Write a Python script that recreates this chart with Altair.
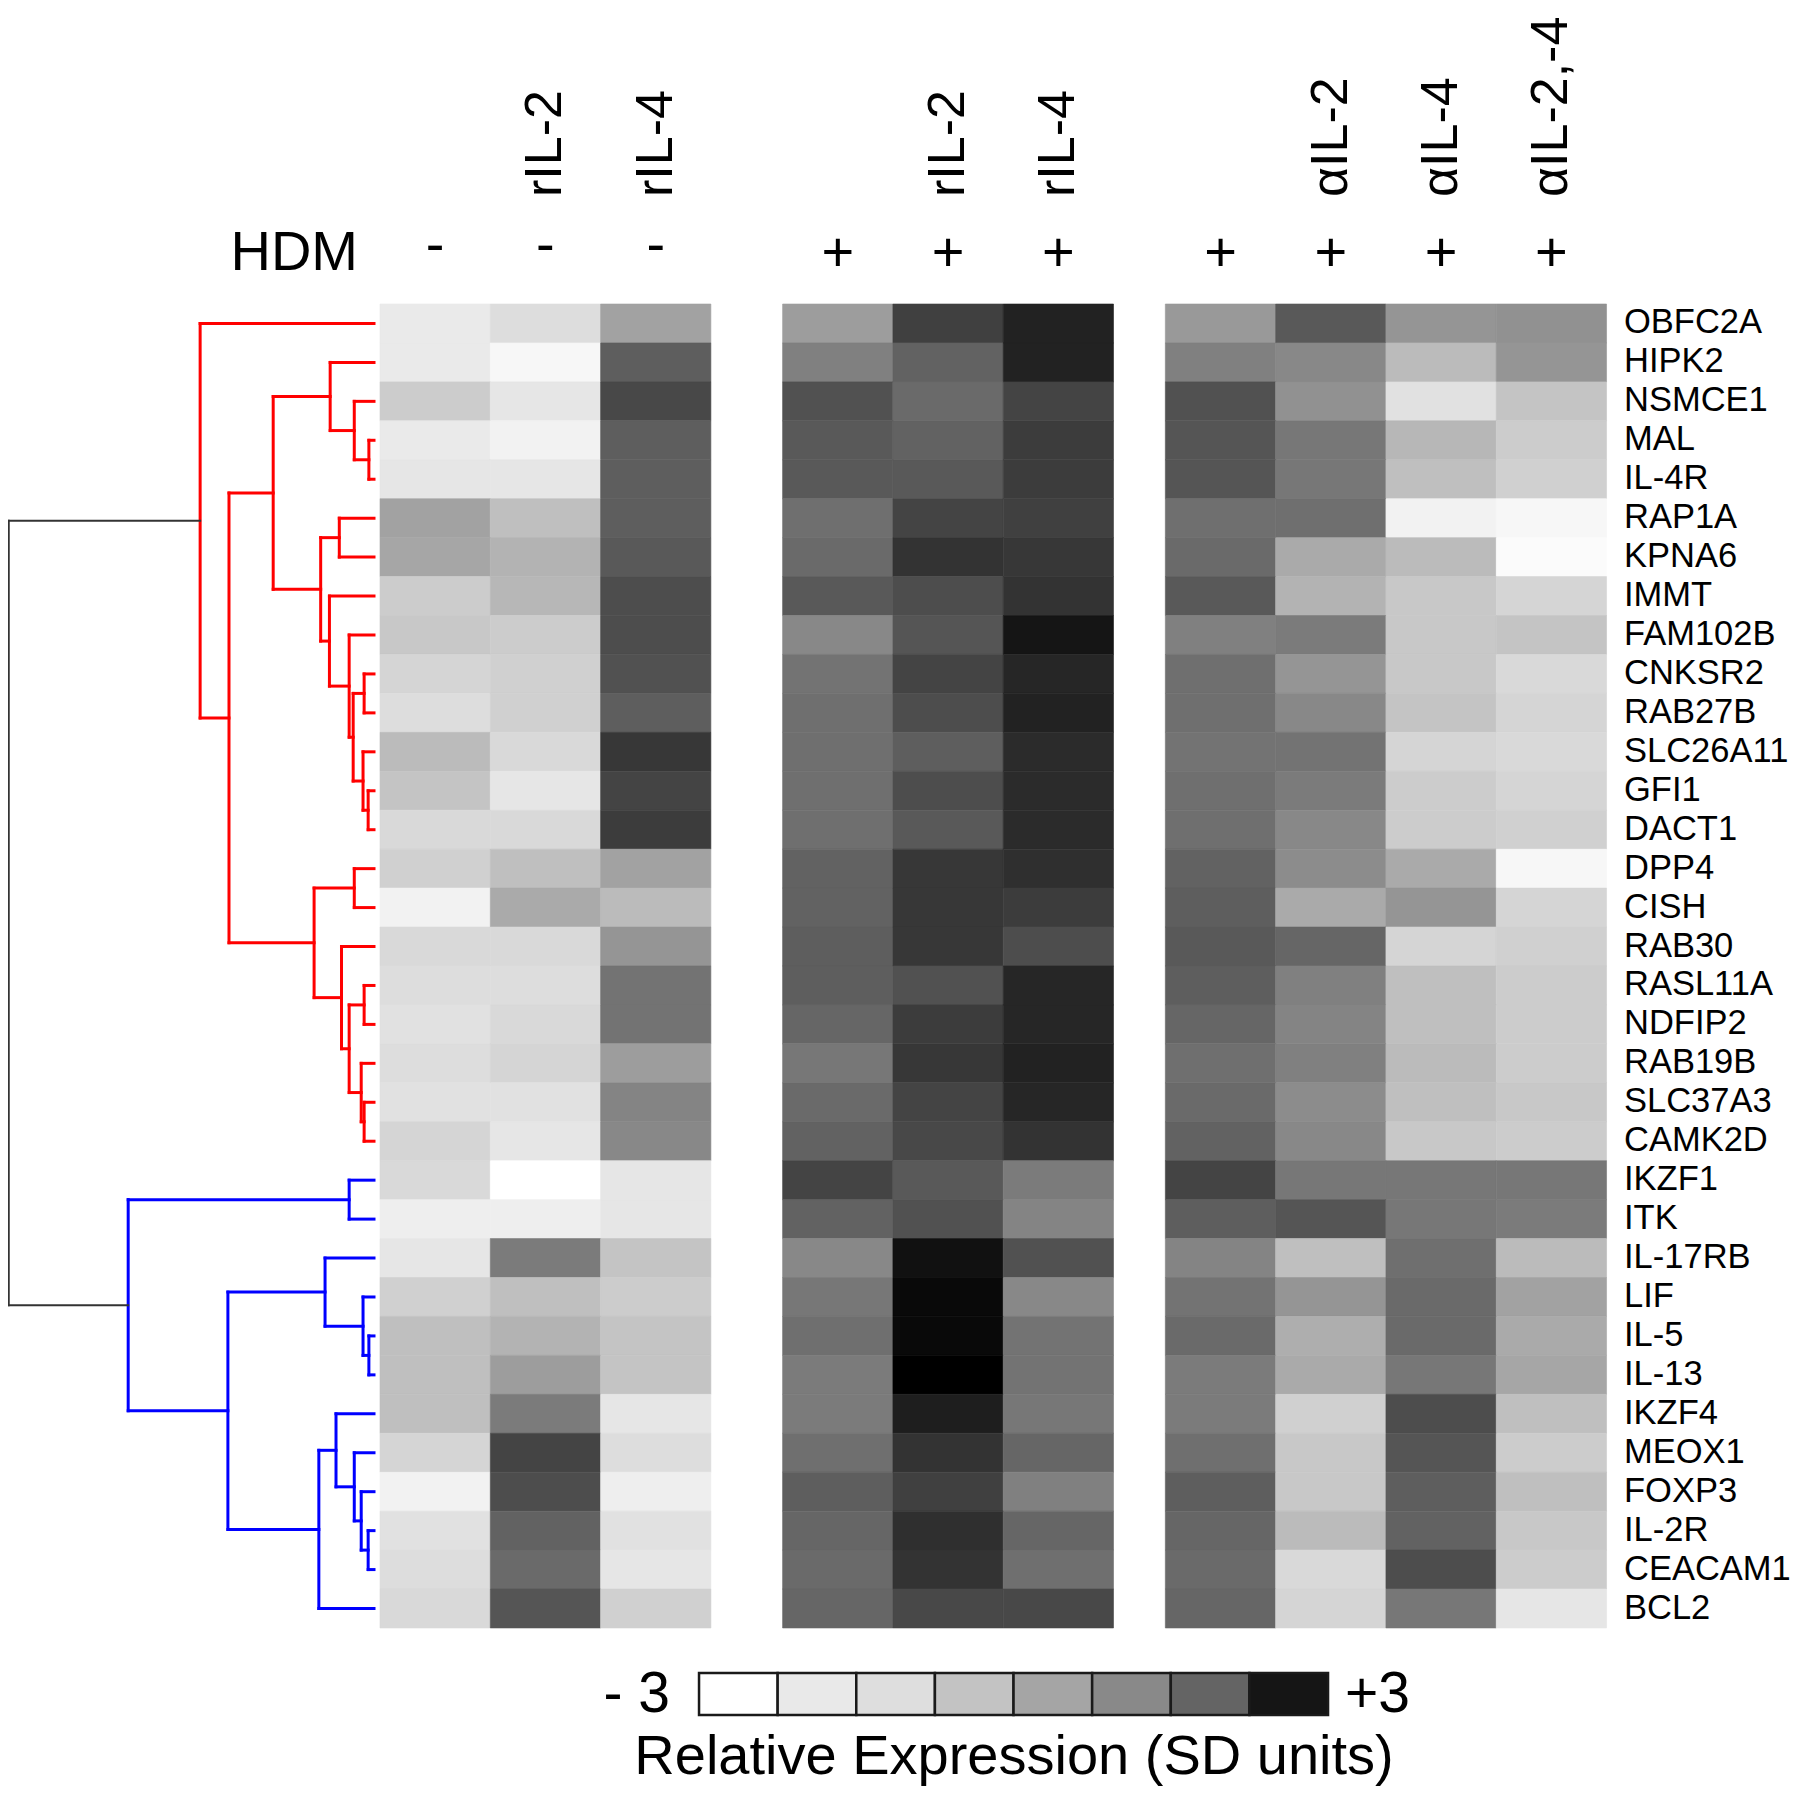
import altair as alt
import pandas as pd

# ---------------- data ----------------
genes = ["OBFC2A", "HIPK2", "NSMCE1", "MAL", "IL-4R", "RAP1A", "KPNA6", "IMMT",
         "FAM102B", "CNKSR2", "RAB27B", "SLC26A11", "GFI1", "DACT1", "DPP4", "CISH",
         "RAB30", "RASL11A", "NDFIP2", "RAB19B", "SLC37A3", "CAMK2D", "IKZF1", "ITK",
         "IL-17RB", "LIF", "IL-5", "IL-13", "IKZF4", "MEOX1", "FOXP3", "IL-2R",
         "CEACAM1", "BCL2"]

hdm = ["-", "-", "-", "+", "+", "+", "+", "+", "+", "+"]
treatments = ["", "rIL-2", "rIL-4", "", "rIL-2", "rIL-4", "", "αIL-2", "αIL-4", "αIL-2,-4"]
groups = [0, 0, 0, 1, 1, 1, 2, 2, 2, 2]

# relative expression (SD units), one list per gene, 10 conditions
values = [
    [-2.5, -2.2, -0.8, -0.7, 1.5, 2.2, -0.6, 0.9, -0.5, -0.4],
    [-2.5, -2.8, 0.8, 0.0, 0.7, 2.2, 0.0, -0.2, -1.4, -0.5],
    [-1.8, -2.4, 1.3, 1.1, 0.5, 1.4, 1.1, -0.4, -2.3, -1.6],
    [-2.5, -2.7, 0.8, 0.9, 0.7, 1.6, 1.0, 0.2, -1.3, -1.8],
    [-2.4, -2.4, 0.8, 0.9, 0.9, 1.6, 1.0, 0.2, -1.5, -1.9],
    [-0.8, -1.5, 0.8, 0.4, 1.4, 1.5, 0.4, 0.4, -2.7, -2.8],
    [-0.9, -1.2, 0.9, 0.5, 1.8, 1.7, 0.5, -1.0, -1.4, -2.9],
    [-1.8, -1.3, 1.2, 0.9, 1.2, 1.8, 0.9, -1.2, -1.7, -2.0],
    [-1.7, -1.8, 1.2, -0.2, 1.0, 2.5, 0.0, 0.1, -1.7, -1.6],
    [-2.0, -1.9, 1.1, 0.3, 1.4, 2.1, 0.4, -0.5, -1.7, -2.1],
    [-2.2, -1.9, 0.8, 0.4, 1.2, 2.2, 0.4, -0.2, -1.6, -2.0],
    [-1.4, -2.1, 1.7, 0.4, 0.8, 2.0, 0.3, 0.3, -2.0, -2.1],
    [-1.6, -2.4, 1.4, 0.4, 1.2, 2.0, 0.4, 0.1, -1.8, -2.0],
    [-2.1, -2.1, 1.6, 0.4, 0.9, 2.0, 0.4, -0.2, -1.8, -1.9],
    [-1.9, -1.5, -0.8, 0.7, 1.7, 1.9, 0.7, -0.3, -1.0, -2.8],
    [-2.7, -1.0, -1.4, 0.7, 1.7, 1.6, 0.8, -1.0, -0.5, -2.0],
    [-2.1, -2.1, -0.5, 0.8, 1.7, 1.2, 0.9, 0.6, -2.0, -1.9],
    [-2.2, -2.2, 0.3, 0.8, 1.1, 2.1, 0.8, 0.0, -1.5, -1.8],
    [-2.3, -2.1, 0.3, 0.6, 1.6, 2.1, 0.6, -0.1, -1.5, -1.8],
    [-2.2, -2.0, -0.7, 0.2, 1.7, 2.2, 0.4, 0.0, -1.4, -1.8],
    [-2.3, -2.3, -0.1, 0.5, 1.4, 2.1, 0.5, -0.3, -1.5, -1.7],
    [-2.0, -2.4, -0.2, 0.7, 1.3, 1.8, 0.7, -0.2, -1.7, -1.8],
    [-2.1, -3.0, -2.4, 1.4, 0.9, 0.1, 1.4, 0.2, 0.2, 0.2],
    [-2.6, -2.6, -2.4, 0.7, 1.1, -0.1, 0.8, 1.0, 0.2, 0.1],
    [-2.4, 0.1, -1.6, -0.2, 2.6, 1.1, -0.1, -1.5, 0.4, -1.4],
    [-1.9, -1.5, -1.8, 0.2, 2.8, -0.2, 0.3, -0.5, 0.5, -0.8],
    [-1.5, -1.2, -1.6, 0.4, 2.8, 0.3, 0.5, -1.1, 0.5, -1.0],
    [-1.5, -0.7, -1.6, 0.1, 3.0, 0.3, 0.1, -1.0, 0.2, -0.9],
    [-1.5, 0.1, -2.4, 0.1, 2.3, 0.2, 0.1, -1.9, 1.2, -1.5],
    [-2.0, 1.4, -2.2, 0.4, 1.8, 0.6, 0.4, -1.7, 1.0, -1.8],
    [-2.7, 1.2, -2.6, 0.8, 1.5, 0.0, 0.8, -1.7, 0.8, -1.5],
    [-2.3, 0.7, -2.3, 0.6, 1.9, 0.6, 0.6, -1.4, 0.7, -1.7],
    [-2.2, 0.5, -2.4, 0.5, 1.8, 0.4, 0.5, -2.1, 1.2, -1.8],
    [-2.1, 1.0, -1.9, 0.6, 1.3, 1.3, 0.6, -2.0, 0.2, -2.4],
]

# dendrogram linkage: (node, left child, right child, merge height, cluster)
# int children are leaf (gene) indices, str children are earlier nodes
links = [
    ("r1", 3, 4, 0.014, "red"),
    ("r2", 2, "r1", 0.054, "red"),
    ("r3", 1, "r2", 0.120, "red"),
    ("r4", 5, 6, 0.095, "red"),
    ("r5", 9, 10, 0.027, "red"),
    ("r6", 12, 13, 0.016, "red"),
    ("r7", 11, "r6", 0.030, "red"),
    ("r8", "r5", "r7", 0.057, "red"),
    ("r9", 8, "r8", 0.068, "red"),
    ("r10", 7, "r9", 0.122, "red"),
    ("r11", "r4", "r10", 0.146, "red"),
    ("r12", "r3", "r11", 0.276, "red"),
    ("r13", 14, 15, 0.054, "red"),
    ("r14", 17, 18, 0.027, "red"),
    ("r15", 20, 21, 0.027, "red"),
    ("r16", 19, "r15", 0.035, "red"),
    ("r17", "r14", "r16", 0.068, "red"),
    ("r18", 16, "r17", 0.089, "red"),
    ("r19", "r13", "r18", 0.164, "red"),
    ("r20", "r12", "r19", 0.397, "red"),
    ("r21", 0, "r20", 0.476, "red"),
    ("b1", 22, 23, 0.068, "blue"),
    ("b2", 26, 27, 0.014, "blue"),
    ("b3", 25, "b2", 0.030, "blue"),
    ("b4", 24, "b3", 0.134, "blue"),
    ("b5", 31, 32, 0.016, "blue"),
    ("b6", 30, "b5", 0.035, "blue"),
    ("b7", 29, "b6", 0.054, "blue"),
    ("b8", 28, "b7", 0.104, "blue"),
    ("b9", "b8", 33, 0.151, "blue"),
    ("b10", "b4", "b9", 0.400, "blue"),
    ("b11", "b1", "b10", 0.673, "blue"),
    ("root", "r21", "b11", 1.000, "root"),
]

legend_colors = ["#ffffff", "#e9e9e9", "#dedede", "#c3c3c3", "#a5a5a5",
                 "#898989", "#646464", "#151515"]

# ---------------- tables ----------------
group_gap = [0.0, 0.65, 1.12]
col_start = [c + group_gap[g] for c, g in enumerate(groups)]

heat_rows = []
for i, g in enumerate(genes):
    for c, v in enumerate(values[i]):
        heat_rows.append({"gene": g, "x0": col_start[c], "x1": col_start[c] + 1,
                          "y0": i, "y1": i + 1, "v": v})
heat_df = pd.DataFrame(heat_rows)

pos = {}
segs = []
for name, a, b, h, cl in links:
    ya, ha = (a + 0.5, 0.0) if isinstance(a, int) else pos[a]
    yb, hb = (b + 0.5, 0.0) if isinstance(b, int) else pos[b]
    segs.append({"x": h, "x2": h, "y": ya, "y2": yb, "grp": cl})
    segs.append({"x": h, "x2": ha, "y": ya, "y2": ya, "grp": cl})
    segs.append({"x": h, "x2": hb, "y": yb, "y2": yb, "grp": cl})
    pos[name] = ((ya + yb) / 2, h)
seg_df = pd.DataFrame(segs)

label_df = pd.DataFrame({"gene": genes, "yc": [i + 0.5 for i in range(len(genes))]})
cols_df = pd.DataFrame({"xc": [s + 0.5 for s in col_start], "hdm": hdm, "treat": treatments})
leg_df = pd.DataFrame({"i": list(range(8)), "i2": list(range(1, 9)), "col": legend_colors})

FONT = "Liberation Sans"
W, H = 1784, 1778

xs_heat = alt.Scale(domain=[-3.3726, 12.8014], nice=False, zero=False)
ys_rows = alt.Scale(domain=[-7.6014, 38.058], nice=False, zero=False, reverse=True)
xs_dend = alt.Scale(domain=[-3.8823, 1.00205], nice=False, zero=False, reverse=True)
xs_leg = alt.Scale(domain=[-8.789, 13.901], nice=False, zero=False)
gray = alt.Scale(domain=[-3, 3], range=["#ffffff", "#000000"], interpolate="rgb")

heat = alt.Chart(heat_df).mark_rect(strokeWidth=0.6).encode(
    x=alt.X("x0:Q", scale=xs_heat, axis=None),
    x2="x1:Q",
    y=alt.Y("y0:Q", scale=ys_rows, axis=None),
    y2="y1:Q",
    color=alt.Color("v:Q", scale=gray, legend=None),
    stroke=alt.Stroke("v:Q", scale=gray, legend=None),
)

dend = alt.Chart(seg_df).transform_filter("datum.grp != 'root'").mark_rule(
    strokeWidth=3, strokeCap="square").encode(
    x=alt.X("x:Q", scale=xs_dend, axis=None),
    x2="x2:Q",
    y=alt.Y("y:Q", scale=ys_rows, axis=None),
    y2="y2:Q",
    color=alt.Color("grp:N", scale=alt.Scale(domain=["red", "blue"],
                                             range=["#ff0000", "#0000ff"]), legend=None),
)

dend_root = alt.Chart(seg_df).transform_filter("datum.grp == 'root'").mark_rule(
    strokeWidth=2, strokeCap="square", color="#333333").encode(
    x=alt.X("x:Q", scale=xs_dend, axis=None),
    x2="x2:Q",
    y=alt.Y("y:Q", scale=ys_rows, axis=None),
    y2="y2:Q",
)

labels = alt.Chart(label_df).mark_text(
    font=FONT, fontSize=34.5, align="left", baseline="middle", color="black").encode(
    x=alt.value(1616),
    y=alt.Y("yc:Q", scale=ys_rows, axis=None),
    text="gene:N",
)

hdm_title = alt.Chart(pd.DataFrame({"t": ["HDM"]})).mark_text(
    font=FONT, fontSize=56, align="right", baseline="alphabetic", color="black").encode(
    x=alt.value(350), y=alt.value(262), text="t:N")

minus = alt.Chart(cols_df).transform_filter("datum.hdm == '-'").mark_text(
    font=FONT, fontSize=56, align="center", baseline="alphabetic", color="black").encode(
    x=alt.X("xc:Q", scale=xs_heat, axis=None), y=alt.value(255), text="hdm:N")

plus = alt.Chart(cols_df).transform_filter("datum.hdm == '+'").mark_text(
    font=FONT, fontSize=56, align="center", baseline="alphabetic", color="black").encode(
    x=alt.X("xc:Q", scale=xs_heat, axis=None), y=alt.value(263), text="hdm:N")

rot = alt.Chart(cols_df).transform_filter("datum.treat != ''").mark_text(
    font=FONT, fontSize=52, align="left", baseline="middle", angle=270, color="black").encode(
    x=alt.X("xc:Q", scale=xs_heat, axis=None), y=alt.value(189), text="treat:N")

leg_rects = alt.Chart(leg_df).mark_rect(stroke="#1a1a1a", strokeWidth=2.5).encode(
    x=alt.X("i:Q", scale=xs_leg, axis=None),
    x2="i2:Q",
    y=alt.value(1665), y2=alt.value(1707),
    fill=alt.Fill("i:O", scale=alt.Scale(domain=list(range(8)), range=legend_colors),
                  legend=None),
)

leg_lo = alt.Chart(pd.DataFrame({"t": ["- 3"]})).mark_text(
    font=FONT, fontSize=57, align="right", baseline="alphabetic", color="black").encode(
    x=alt.value(662), y=alt.value(1704), text="t:N")
leg_hi = alt.Chart(pd.DataFrame({"t": ["+3"]})).mark_text(
    font=FONT, fontSize=57, align="left", baseline="alphabetic", color="black").encode(
    x=alt.value(1337), y=alt.value(1704), text="t:N")
leg_title = alt.Chart(pd.DataFrame({"t": ["Relative Expression (SD units)"]})).mark_text(
    font=FONT, fontSize=56, align="center", baseline="alphabetic", color="black").encode(
    x=alt.value(1006), y=alt.value(1766), text="t:N")

chart = alt.layer(
    heat, dend, dend_root, labels, hdm_title, minus, plus, rot,
    leg_rects, leg_lo, leg_hi, leg_title
).resolve_scale(
    x="independent", y="independent", color="independent",
    stroke="independent", fill="independent"
).properties(
    width=W, height=H, padding=0, autosize="none"
).configure_view(strokeWidth=0)

chart.save("out.html", embed_options={"renderer": "svg", "actions": False})
